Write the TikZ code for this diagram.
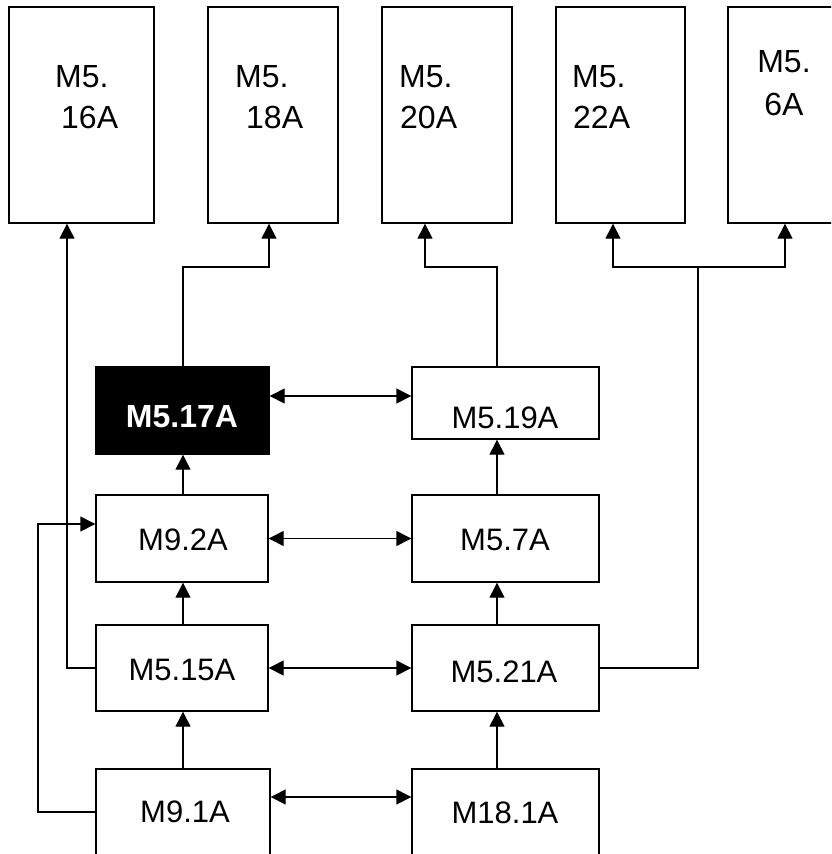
\documentclass[tikz,border=0pt]{standalone}
\usepackage{fontspec}
\setmainfont{Liberation Sans}
\usetikzlibrary{arrows.meta}
\begin{document}
\begin{tikzpicture}[x=1pt,y=-1pt,
  box/.style={draw=black,line width=1.4pt,fill=white,inner sep=0pt,minimum height=#1},
  tall/.style={box=216pt,minimum width=#1},
  lbl/.style={inner sep=0pt,anchor=base,font=\fontsize{31}{36}\selectfont},
  tlbl/.style={inner sep=0pt,anchor=base west,font=\fontsize{32}{36}\selectfont},
  wire/.style={draw=black,line width=1.4pt},
  arr/.style={wire,-{Triangle[length=15pt,width=15pt]}},
  dbl/.style={wire,{Triangle[length=15pt,width=15pt]}-{Triangle[length=15pt,width=15pt]}}]
\useasboundingbox (0,0) rectangle (831,854);
\clip (0,0) rectangle (831,854);
\fill[white] (0,0) rectangle (831,854);

% top boxes
\node[tall=145pt] (t16) at (81.5,115) {};
\node[tall=130pt] (t18) at (273,115) {};
\node[tall=130pt] (t20) at (447,115) {};
\node[tall=129pt] (t22) at (620.5,115) {};
\node[tall=130pt] (t6)  at (793,115) {};
\node[tlbl] (l16a) at (55,87) {M5.};
\node[tlbl] (l16b) at (61,128) {16A};
\node[tlbl] (l18a) at (235,87) {M5.};
\node[tlbl] (l18b) at (246,128) {18A};
\node[tlbl] (l20a) at (399,87) {M5.};
\node[tlbl] (l20b) at (400,128) {20A};
\node[tlbl] (l22a) at (572,87) {M5.};
\node[tlbl] (l22b) at (573,128) {22A};
\node[lbl,font=\fontsize{32}{36}\selectfont] (l6a) at (784,72) {M5.};
\node[lbl,font=\fontsize{32}{36}\selectfont] (l6b) at (784,115) {6A};

% middle boxes
\node[box=87pt,minimum width=173pt,fill=black] (b17) at (182.5,410.5) {};
\node[box=87pt,minimum width=172pt] (b92) at (182,538.5) {};
\node[box=86pt,minimum width=172pt] (b515) at (182,668) {};
\node[box=100pt,minimum width=174pt] (b91) at (183,819) {};
\node[box=72pt,minimum width=187pt] (b19) at (505.5,403) {};
\node[box=87pt,minimum width=187pt] (b57) at (505.5,538.5) {};
\node[box=86pt,minimum width=187pt] (b521) at (505.5,668) {};
\node[box=100pt,minimum width=187pt] (b181) at (505.5,819) {};

\node[lbl,text=white,font=\fontsize{32}{36}\selectfont\bfseries] (l17) at (182,427) {M5.17A};
\node[lbl] (l92) at (183,550) {M9.2A};
\node[lbl] (l515) at (182,680) {M5.15A};
\node[lbl] (l91) at (185,822) {M9.1A};
\node[lbl] (l19) at (505,428) {M5.19A};
\node[lbl] (l57) at (505,550) {M5.7A};
\node[lbl] (l521) at (504,682) {M5.21A};
\node[lbl] (l181) at (505,823) {M18.1A};

% helper coordinates
\coordinate (yA) at (0,396);
\coordinate (yD) at (0,797);
\coordinate (yE) at (0,812);
\coordinate (yL) at (0,524);
\coordinate (xM) at (183,0);
\coordinate (xR) at (497,0);
\coordinate (xL1) at (67,0);
\coordinate (xL2) at (38,0);
\coordinate (c18) at (269,267);
\coordinate (c20) at (425,267);
\coordinate (cj) at (698,267);
\coordinate (c22) at (613,267);
\coordinate (c6) at (785,267);

% horizontal double arrows
\draw[dbl] (b17.east |- yA) -- (b19.west |- yA);
\draw[dbl] (b92.east) -- (b57.west);
\draw[dbl] (b515.east) -- (b521.west);
\draw[dbl] (b91.east |- yD) -- (b181.west |- yD);

% vertical arrows
\draw[arr] (b92.north -| xM) -- (b17.south -| xM);
\draw[arr] (b515.north -| xM) -- (b92.south -| xM);
\draw[arr] (b91.north -| xM) -- (b515.south -| xM);
\draw[arr] (b57.north -| xR) -- (b19.south -| xR);
\draw[arr] (b521.north -| xR) -- (b57.south -| xR);
\draw[arr] (b181.north -| xR) -- (b521.south -| xR);

% routes to top boxes
\draw[arr] (b17.north -| xM) |- (c18) -- (c18 |- t18.south);
\draw[arr] (b19.north -| xR) |- (c20) -- (c20 |- t20.south);
\draw[wire] (b521.east) -| (cj);
\draw[dbl] (c22 |- t22.south) -- (c22) -- (c6) -- (c6 |- t6.south);
\draw[arr] (b515.west) -| (xL1 |- t16.south);
\draw[arr] (b91.west |- yE) -| (xL2 |- yL) -- (b92.west |- yL);
\end{tikzpicture}
\end{document}
